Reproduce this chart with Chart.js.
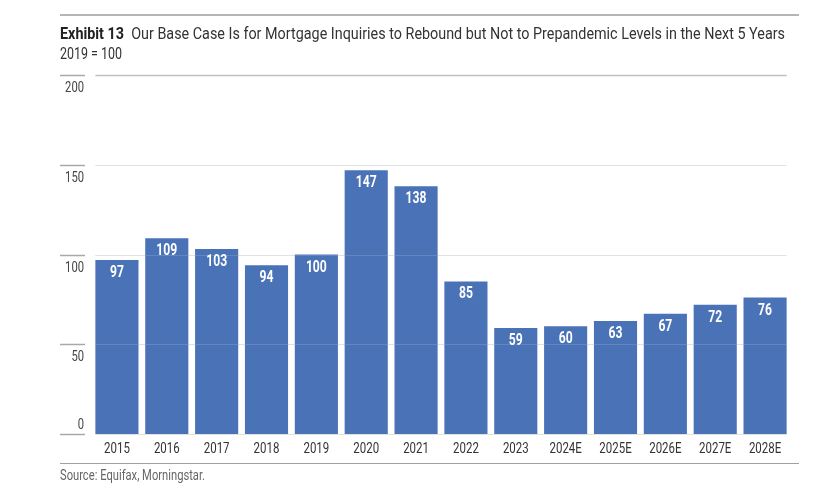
<!DOCTYPE html>
<html>
<head>
<meta charset="utf-8">
<script src="https://cdn.jsdelivr.net/npm/chart.js@4"></script>
<style>
  body { margin: 0; background: #fff; }
  #wrap { position: relative; width: 827px; height: 486px; font-family: Roboto, sans-serif; }
  #wrap canvas { position: absolute; left: 0; top: 0; }
  .rule { position: absolute; left: 60px; width: 739px; }
  .fit { position: absolute; left: 60px; white-space: nowrap; transform-origin: 0 50%; line-height: 20px; }
  #title { top: 23px; font-size: 17px; color: #333; }
  #title b { color: #222; font-weight: 700; }
  #sub { top: 44px; font-size: 16px; color: #333; }
  #source { top: 465px; font-size: 14px; color: #666; }
</style>
</head>
<body>
<div id="wrap">
  <canvas id="data-chart" width="827" height="486"></canvas>
  <div class="rule" style="top:14px;height:2px;background:#b5b5b5"></div>
  <div class="fit" id="title" data-w="725"><b>Exhibit 13</b>&nbsp; Our Base Case Is for Mortgage Inquiries to Rebound but Not to Prepandemic Levels in the Next 5 Years</div>
  <div class="fit" id="sub" data-w="62">2019 = 100</div>
  <div class="rule" style="top:463px;height:1px;background:#a0a0a0"></div>
  <div class="fit" id="source" data-w="145">Source: Equifax, Morningstar.</div>
</div>
<script>
// Chart data
const years = ["2015", "2016", "2017", "2018", "2019", "2020", "2021", "2022", "2023", "2024E", "2025E", "2026E", "2027E", "2028E"];
const inquiries = [97, 109, 103, 94, 100, 147, 138, 85, 59, 60, 63, 67, 72, 76];
const yTicks = [0, 50, 100, 150, 200];

const FONT = "Roboto, sans-serif";
const BAR = "#4a72b7";

// the exhibit uses a condensed face, so squeeze text horizontally
function squeezeText(ctx, text, x, y, sx) {
  ctx.save();
  ctx.translate(x, y);
  ctx.scale(sx, 1);
  ctx.fillText(text, 0, 0);
  ctx.restore();
}

// Gridlines, y labels, x labels and value labels
const gridPlugin = {
  id: "grid",
  beforeDatasetsDraw(chart) {
    const { ctx, chartArea, scales } = chart;
    const meta = chart.getDatasetMeta(0).data;
    const x0 = meta[0].x - meta[0].width / 2;
    const x1 = meta[meta.length - 1].x + meta[meta.length - 1].width / 2;
    ctx.save();
    ctx.font = "14px " + FONT;
    ctx.textAlign = "right";
    ctx.textBaseline = "middle";
    yTicks.forEach(function (v) {
      const y = Math.round(scales.y.getPixelForValue(v)) + 0.5;
      ctx.strokeStyle = "#a8a8a8";
      ctx.lineWidth = 1.5;
      ctx.beginPath();
      ctx.moveTo(chartArea.left - 32, y);
      ctx.lineTo(chartArea.left - 7, y);
      ctx.stroke();
      ctx.strokeStyle = v === 200 ? "#c0c0c0" : "#e2e2e2";
      ctx.lineWidth = v === 200 ? 1.5 : 1;
      ctx.beginPath();
      ctx.moveTo(x0, y);
      ctx.lineTo(x1, y);
      ctx.stroke();
      ctx.fillStyle = "#444";
      squeezeText(ctx, String(v), chartArea.left - 8, v === 0 ? y - 9 : y + 13, 0.8);
    });
    // category labels
    ctx.textAlign = "center";
    ctx.fillStyle = "#333";
    years.forEach(function (lab, i) {
      squeezeText(ctx, lab, scales.x.getPixelForValue(i), chartArea.bottom + 15, 0.82);
    });
    ctx.restore();
  },
  afterDatasetsDraw(chart) {
    const { ctx, scales } = chart;
    const meta = chart.getDatasetMeta(0).data;
    const x0 = meta[0].x - meta[0].width / 2;
    const x1 = meta[meta.length - 1].x + meta[meta.length - 1].width / 2;
    ctx.save();
    ctx.strokeStyle = "rgba(220,220,220,0.18)";
    ctx.lineWidth = 1;
    yTicks.slice(1, 4).forEach(function (v) {
      const y = Math.round(scales.y.getPixelForValue(v)) + 0.5;
      ctx.beginPath();
      ctx.moveTo(x0, y);
      ctx.lineTo(x1, y);
      ctx.stroke();
    });
    // value labels inside the bars
    ctx.font = "bold 16px " + FONT;
    ctx.fillStyle = "#fff";
    ctx.textAlign = "center";
    ctx.textBaseline = "middle";
    meta.forEach(function (bar, i) {
      squeezeText(ctx, String(inquiries[i]), bar.x, bar.y + 13, 0.76);
    });
    ctx.restore();
  },
};

function createChart() {
  const ctx = document.getElementById("data-chart").getContext("2d");
  new Chart(ctx, {
    type: "bar",
    data: {
      labels: years,
      datasets: [
        {
          data: inquiries,
          backgroundColor: BAR,
          borderWidth: 0,
          categoryPercentage: 1,
          barPercentage: 0.865,
        },
      ],
    },
    options: {
      responsive: false,
      animation: false,
      layout: { padding: { left: 92, right: 37, top: 75, bottom: 52 } },
      plugins: { legend: { display: false }, tooltip: { enabled: false } },
      scales: {
        x: {
          grid: { display: false, drawTicks: false },
          border: { display: false },
          ticks: { display: false },
        },
        y: {
          display: false,
          min: 0,
          max: 200,
        },
      },
    },
    plugins: [gridPlugin],
  });
}

// squeeze the HTML text lines to the widths of the exhibit
function fitText() {
  document.querySelectorAll(".fit").forEach(function (el) {
    const w = el.getBoundingClientRect().width;
    el.style.transform = "scaleX(" + (Number(el.dataset.w) / w) + ")";
  });
}

document.addEventListener("DOMContentLoaded", function () {
  fitText();
  createChart();
});
</script>
</body>
</html>
